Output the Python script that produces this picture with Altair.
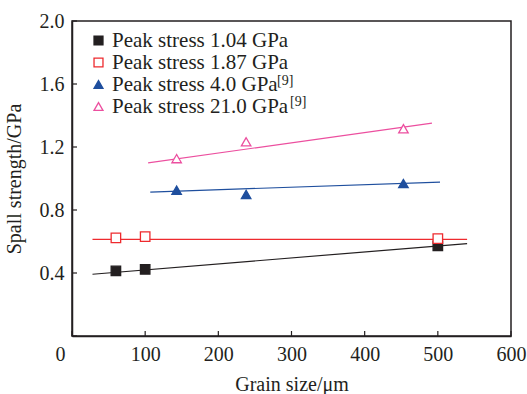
import altair as alt
import pandas as pd

# Measured spall strength (GPa) against grain size (um)
grain_own = [60, 100, 500]
spall_104 = [0.413, 0.423, 0.572]
spall_187 = [0.623, 0.631, 0.618]
grain_ref = [143, 238, 453]
spall_40 = [0.926, 0.899, 0.968]
spall_210 = [1.126, 1.233, 1.316]

series = ["Peak stress 1.04 GPa", "Peak stress 1.87 GPa",
          "Peak stress 4.0 GPa", "Peak stress 21.0 GPa"]
colors = ["#231f20", "#ee2a2e", "#1f4f9e", "#ec4f9f"]
fills = ["#231f20", "white", "#1f4f9e", "white"]
shapes = ["square", "square", "triangle-up", "triangle-up"]

# Linear trend line for each series: start / end points
fit_x0 = [28, 28, 107, 104]
fit_x1 = [540, 540, 503, 492]
fit_y0 = [0.392, 0.614, 0.914, 1.099]
fit_y1 = [0.587, 0.614, 0.977, 1.352]

x_ticks = [0, 100, 200, 300, 400, 500, 600]
y_ticks = [0, 0.4, 0.8, 1.2, 1.6, 2.0]

# Reference marker shown after the literature series in the legend
superscripts = ["[9]", "[9]"]

FONT = "Liberation Serif"
INK = "#231f20"
W, H = 439, 315
TICK = 5

points = pd.DataFrame({
    "grain": grain_own + grain_own + grain_ref + grain_ref,
    "spall": spall_104 + spall_187 + spall_40 + spall_210,
    "series": [series[0]] * 3 + [series[1]] * 3 + [series[2]] * 3 + [series[3]] * 3,
})
fits = pd.DataFrame({"series": series, "hex": colors, "x0": fit_x0, "x1": fit_x1,
                     "y0": fit_y0, "y1": fit_y1})

x_scale = alt.Scale(domain=[0, 600], nice=False)
y_scale = alt.Scale(domain=[0, 2.0], nice=False)

x_axis = alt.Axis(
    title="Grain size/μm", values=x_ticks, format="d", grid=False, ticks=False,
    labelPadding=8, titlePadding=10, labelFlush=False,
    labelOffset={"condition": {"test": "datum.value === 0", "value": -12}, "value": 0},
)
y_axis = alt.Axis(
    title="Spall strength/GPa", values=y_ticks, format=".1f", grid=False, ticks=False,
    labelPadding=8, titlePadding=15, labelFlush=False,
    labelExpr="datum.value == 0 ? '' : datum.label",
)

# trend lines take their colour straight from the hex column
lines = alt.Chart(fits).mark_rule(strokeWidth=1.2).encode(
    x=alt.X("x0:Q", scale=x_scale, axis=x_axis),
    x2="x1:Q",
    y=alt.Y("y0:Q", scale=y_scale, axis=y_axis),
    y2="y1:Q",
    color=alt.Color("hex:N", scale=None),
)

# inward-pointing tick marks on the bottom and left axes
x_tick_marks = alt.Chart(pd.DataFrame({"v": x_ticks})).mark_rule(
    color=INK, strokeWidth=1.2).encode(
    x=alt.X("v:Q", scale=x_scale), y=alt.value(H), y2=alt.value(H - TICK))
y_tick_marks = alt.Chart(pd.DataFrame({"v": y_ticks})).mark_rule(
    color=INK, strokeWidth=1.2).encode(
    y=alt.Y("v:Q", scale=y_scale), x=alt.value(0), x2=alt.value(TICK))

legend = alt.Legend(title=None, orient="none", legendX=16, legendY=9,
                    padding=0, rowPadding=0, labelFont=FONT, labelFontSize=21,
                    labelColor=INK, labelOffset=3, labelLimit=400)
markers = alt.Chart(points).mark_point(size=90, strokeWidth=1.3, opacity=1).encode(
    x=alt.X("grain:Q", scale=x_scale),
    y=alt.Y("spall:Q", scale=y_scale),
    stroke=alt.Stroke("series:N", scale=alt.Scale(domain=series, range=colors), legend=legend),
    fill=alt.Fill("series:N", scale=alt.Scale(domain=series, range=fills), legend=legend),
    shape=alt.Shape("series:N", scale=alt.Scale(domain=series, range=shapes), legend=legend),
)

sup_style = dict(font=FONT, fontSize=14, color=INK, align="left", baseline="top")
sup1 = alt.Chart(pd.DataFrame({"t": [superscripts[0]]})).mark_text(**sup_style).encode(
    text="t:N", x=alt.value(205), y=alt.value(53))
sup2 = alt.Chart(pd.DataFrame({"t": [superscripts[1]]})).mark_text(**sup_style).encode(
    text="t:N", x=alt.value(218), y=alt.value(74))

chart = alt.layer(lines, x_tick_marks, y_tick_marks, markers, sup1, sup2).properties(
    width=W, height=H,
    background="white",
    autosize=alt.AutoSizeParams(type="none"),
    padding={"left": 72, "top": 21, "right": 16, "bottom": 58},
).configure_view(
    stroke=INK, strokeWidth=1.5,
).configure_axis(
    domainColor=INK, domainWidth=1.5,
    labelFont=FONT, labelFontSize=20, labelColor=INK,
    titleFont=FONT, titleFontSize=20, titleColor=INK, titleFontWeight="normal",
).configure_legend(
    symbolSize=80, symbolStrokeWidth=1.3,
)

chart.save("out.html", embed_options={"renderer": "svg", "actions": False})
